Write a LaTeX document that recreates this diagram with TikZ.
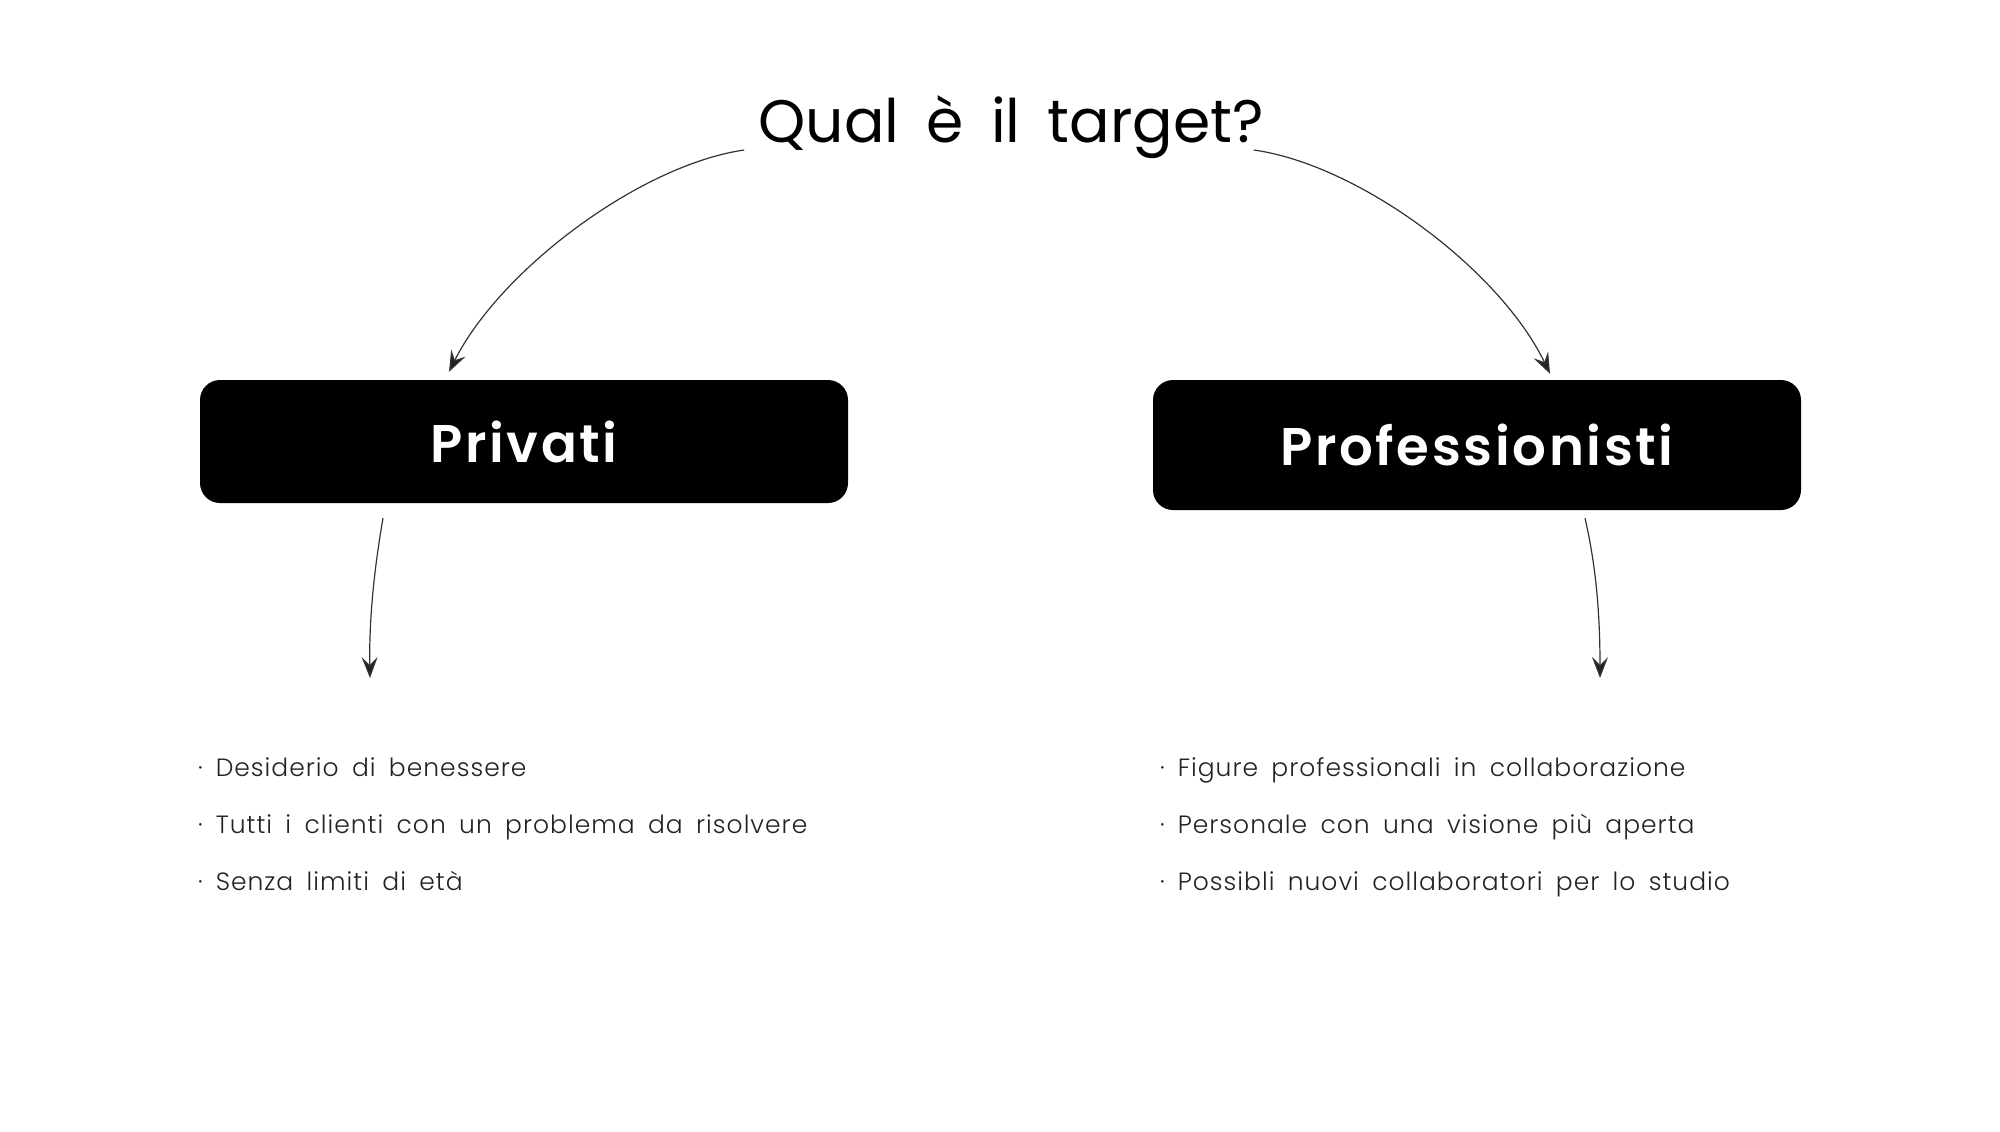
\documentclass[tikz,border=0pt]{standalone}
\usepackage{fontspec}
\setmainfont{Poppins}
\newfontfamily\lightfont{Poppins Light}[LetterSpace=4,WordSpace=1.7]
\newfontfamily\semifont{Poppins SemiBold}[LetterSpace=5]
\newfontfamily\titlefont{Poppins}[WordSpace=1.7]
\usetikzlibrary{arrows.meta}
\definecolor{ink}{HTML}{222222}
\definecolor{wire}{HTML}{333333}
\tikzset{
  box/.style={fill=black, rounded corners=20pt, minimum width=648pt, text=white, font=\semifont\fontsize{53}{60}\selectfont, inner sep=0pt},
  conn/.style={draw=wire, line width=1.2pt, -{Stealth[length=21pt,width=16pt,inset=8pt,fill=ink]}},
  item/.style={anchor=base west, inner sep=0pt, text=ink, font=\lightfont\fontsize{25}{30}\selectfont},
}
\begin{document}
\begin{tikzpicture}[x=1pt,y=-1pt]
\useasboundingbox (0,0) rectangle (2000,1132);
\node[font=\titlefont\fontsize{60}{70}\selectfont, inner sep=0pt] (title) at (1011,127) {Qual è il target?};
\node[box, minimum height=123pt] (priv) at (524,441.5) {Privati};
\node[box, minimum height=130pt] (prof) at (1477,445) {Professionisti};
\draw[conn] ([xshift=-14pt,yshift=-23pt]title.west) .. controls (640,165) and (500,270) .. ([xshift=-75pt,yshift=8pt]priv.north);
\draw[conn] ([xshift=-10pt,yshift=-23pt]title.east) .. controls (1360,165) and (1500,270) .. ([xshift=73pt,yshift=6pt]prof.north);
\draw[conn] ([xshift=-141pt,yshift=-15pt]priv.south) .. controls (374,570) and (369,620) .. (370,678);
\draw[conn] ([xshift=108pt,yshift=-8pt]prof.south) .. controls (1597,570) and (1600,620) .. (1600,678);
\node[item] (l1) at (198,776) {·\hspace{13pt}Desiderio di benessere};
\node[item] (l2) at (198,833) {·\hspace{13pt}Tutti i clienti con un problema da risolvere};
\node[item] (l3) at (198,890) {·\hspace{13pt}Senza limiti di età};
\node[item] (r1) at (1160,776) {·\hspace{13pt}Figure professionali in collaborazione};
\node[item] (r2) at (1160,833) {·\hspace{13pt}Personale con una visione più aperta};
\node[item] (r3) at (1160,890) {·\hspace{13pt}Possibli nuovi collaboratori per lo studio};
\end{tikzpicture}
\end{document}
